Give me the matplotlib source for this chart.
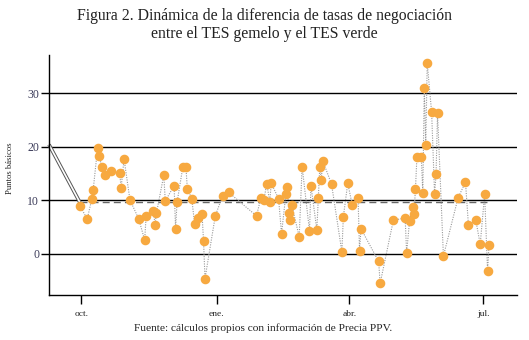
import matplotlib
matplotlib.use("Agg")
import matplotlib.pyplot as plt
import matplotlib.dates as mdates
import pandas as pd
import numpy as np

fechas = [
    "2021-09-30", "2021-10-05", "2021-10-08", "2021-10-09", "2021-10-12", "2021-10-13",
    "2021-10-15", "2021-10-17", "2021-10-21", "2021-10-27", "2021-10-28", "2021-10-30",
    "2021-11-03", "2021-11-09", "2021-11-13", "2021-11-14", "2021-11-19", "2021-11-20",
    "2021-11-21", "2021-11-26", "2021-11-27", "2021-12-03", "2021-12-04", "2021-12-05",
    "2021-12-09", "2021-12-11", "2021-12-12", "2021-12-15", "2021-12-17", "2021-12-19",
    "2021-12-22", "2021-12-23", "2021-12-24", "2021-12-31", "2022-01-05", "2022-01-09",
    "2022-01-28", "2022-01-31", "2022-02-02", "2022-02-04", "2022-02-06", "2022-02-07",
    "2022-02-12", "2022-02-14", "2022-02-17", "2022-02-18", "2022-02-19", "2022-02-20",
    "2022-02-21", "2022-02-26", "2022-02-28", "2022-03-05", "2022-03-06", "2022-03-10",
    "2022-03-11", "2022-03-12", "2022-03-13", "2022-03-14", "2022-03-20", "2022-03-27",
    "2022-03-28", "2022-03-31", "2022-04-03", "2022-04-07", "2022-04-08", "2022-04-09",
    "2022-04-21", "2022-04-22", "2022-05-01", "2022-05-09", "2022-05-10", "2022-05-12",
    "2022-05-14", "2022-05-15", "2022-05-16", "2022-05-17", "2022-05-20", "2022-05-21",
    "2022-05-22", "2022-05-23", "2022-05-24", "2022-05-27", "2022-05-29", "2022-05-30",
    "2022-05-31", "2022-06-04", "2022-06-14", "2022-06-19", "2022-06-21", "2022-06-26",
    "2022-06-29", "2022-07-02", "2022-07-04", "2022-07-05",
]

diferencia = [
    9.0, 6.5, 10.2, 11.9, 19.7, 18.2,
    16.3, 14.7, 15.4, 15.1, 12.3, 17.7,
    10.1, 6.5, 2.6, 7.1, 8.1, 5.4,
    7.6, 14.7, 9.9, 12.7, 4.7, 9.6,
    16.3, 16.3, 12.2, 10.3, 5.5, 6.8,
    7.4, 2.5, -4.6, 7.1, 10.9, 11.5,
    7.1, 10.5, 10.1, 13.1, 9.7, 13.2,
    10.3, 3.8, 11.2, 12.4, 7.6, 6.3,
    9.1, 3.2, 16.3, 4.3, 12.7, 4.5,
    10.5, 16.3, 13.8, 17.4, 13.0, 0.4,
    6.9, 13.2, 9.2, 10.5, 0.6, 4.7,
    -1.4, -5.5, 6.3, 6.7, 0.2, 6.2,
    8.7, 7.5, 12.1, 18.1, 18.0, 11.3,
    31.0, 20.4, 35.6, 26.4, 11.1, 14.9,
    26.2, -0.4, 10.5, 13.4, 5.4, 6.3,
    1.8, 11.1, -3.2, 1.7,
]

nivel_promedio = 9.7
ticks_fechas = ["2021-10-01", "2022-01-01", "2022-04-01", "2022-07-01"]
ticks_etiquetas = ["oct.", "ene.", "abr.", "jul."]
y_ticks = [0, 10, 20, 30]

titulo = "Figura 2. Dinámica de la diferencia de tasas de negociación\nentre el TES gemelo y el TES verde"
fuente = "Fuente: cálculos propios con información de Precia PPV."
ylabel = "Puntos básicos"

serif = ["Liberation Serif", "DejaVu Serif"]
plt.rcParams["font.family"] = serif

x = pd.to_datetime(fechas)
y = np.array(diferencia)

fig = plt.figure(figsize=(5.29, 3.40), dpi=100)
ax = fig.add_axes([49 / 529, 45 / 340, (517 - 49) / 529, (295 - 55) / 340])

xmin = pd.Timestamp("2021-09-09")
xmax = pd.Timestamp("2022-07-24")
ax.set_xlim(xmin, xmax)
ax.set_ylim(-7.65, 37.1)

for v in y_ticks:
    ax.axhline(v, color="black", lw=1.0, zorder=1)

# double connector line from axis to first observation
ax.plot([xmin, x[0]], [20.4, 9.6], color="#555555", lw=2.6, solid_capstyle="butt", zorder=2, clip_on=False)
ax.plot([xmin, x[0]], [20.4, 9.6], color="white", lw=1.2, solid_capstyle="butt", zorder=2.1, clip_on=False)

ax.plot([x[0], x[-1]], [nivel_promedio, nivel_promedio], color="#666666", lw=1.0,
        dashes=(5, 3), zorder=2)

ax.plot(x, y, color="#9a9a9a", lw=0.8, ls=(0, (1, 1.2)), zorder=3)
ax.plot(x, y, ls="none", marker="o", ms=5.9, color="#F7A940", mec="#F7A940", zorder=4)

for s in ["top", "right"]:
    ax.spines[s].set_visible(False)
for s in ["left", "bottom"]:
    ax.spines[s].set_linewidth(1.0)
    ax.spines[s].set_color("black")

ax.set_yticks(y_ticks)
ax.set_yticklabels([str(v) for v in y_ticks])
ax.tick_params(axis="y", direction="out", length=6, width=1.0, colors="black",
               labelcolor="#3c3c5a", labelsize=8.5, pad=1)
ax.set_xticks(pd.to_datetime(ticks_fechas))
ax.set_xticklabels(ticks_etiquetas)
ax.tick_params(axis="x", direction="out", length=6.5, width=1.0, colors="black",
               labelcolor="#222222", labelsize=6.8, pad=4)

ax.set_ylabel(ylabel, fontsize=6.2, color="#222222")
ax.yaxis.set_label_coords(-0.075, 0.53)

fig.text(0.5, 0.975, titulo, ha="center", va="top", fontsize=11.3, color="#222222",
         linespacing=1.15)
fig.text(0.497, 0.036, fuente, ha="center", va="center", fontsize=8.2, color="#222222")

fig.savefig("out.png", dpi=100)
